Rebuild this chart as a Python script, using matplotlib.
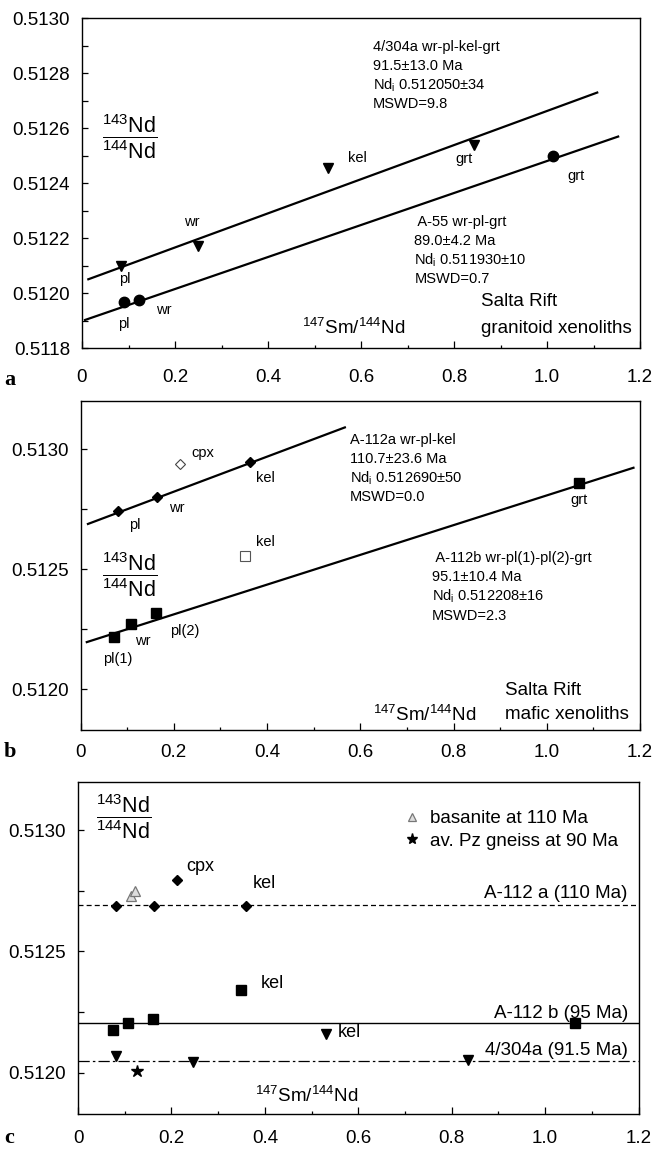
import matplotlib
matplotlib.use("Agg")
import matplotlib.pyplot as plt
from matplotlib.ticker import MultipleLocator, FuncFormatter
from matplotlib.lines import Line2D

plt.rcParams['font.family'] = ['Liberation Sans', 'DejaVu Sans']
plt.rcParams['mathtext.fontset'] = 'custom'
plt.rcParams['mathtext.rm'] = 'Liberation Sans'
plt.rcParams['mathtext.it'] = 'Liberation Sans:italic'
plt.rcParams['mathtext.bf'] = 'Liberation Sans:bold'

# ---------------- panel a : granitoid xenoliths ----------------
a_tri_x = [0.084, 0.250, 0.529, 0.844]          # 4/304a wr-pl-kel-grt
a_tri_y = [0.51210, 0.512172, 0.512455, 0.512539]
a_circ_x = [0.090, 0.123, 1.013]                 # A-55 wr-pl-grt
a_circ_y = [0.511968, 0.511975, 0.512501]
a_iso1_x = [0.0136, 1.108]
a_iso1_y = [0.512051, 0.512730]
a_iso2_x = [0.0065, 1.153]
a_iso2_y = [0.511903, 0.512570]
a_point_labels = [("pl", 0.091, 0.512051), ("wr", 0.237, 0.512260),
                  ("kel", 0.592, 0.512491), ("grt", 0.821, 0.512487),
                  ("grt", 1.063, 0.512427), ("pl", 0.090, 0.511888),
                  ("wr", 0.176, 0.511939)]
a_block1 = ["4/304a wr-pl-kel-grt", "91.5±13.0 Ma",
            "Nd$_\\mathrm{i}$ 0.512050±34", "MSWD=9.8"]
a_block2 = [" A-55 wr-pl-grt", "89.0±4.2 Ma",
            "Nd$_\\mathrm{i}$ 0.511930±10", "MSWD=0.7"]

# ---------------- panel b : mafic xenoliths ----------------
b_dia_x = [0.080, 0.164, 0.363]                  # A-112a wr-pl-kel
b_dia_y = [0.512743, 0.512802, 0.512945]
b_cpx_x = [0.214]
b_cpx_y = [0.512938]
b_kel_open_x = [0.353]
b_kel_open_y = [0.512553]
b_sq_x = [0.072, 0.1075, 0.161, 1.069]           # A-112b wr-pl(1)-pl(2)-grt
b_sq_y = [0.512219, 0.512273, 0.512318, 0.512858]
b_iso1_x = [0.016, 0.567]
b_iso1_y = [0.512688, 0.513090]
b_iso2_x = [0.0135, 1.186]
b_iso2_y = [0.512196, 0.512922]
b_point_labels = [("pl", 0.116, 0.512685), ("wr", 0.206, 0.512756),
                  ("kel", 0.396, 0.512881), ("cpx", 0.262, 0.512982),
                  ("kel", 0.397, 0.512611), ("pl(1)", 0.079, 0.512125),
                  ("wr", 0.133, 0.512200), ("pl(2)", 0.224, 0.512242),
                  ("grt", 1.069, 0.512786)]
b_block1 = ["A-112a wr-pl-kel", "110.7±23.6 Ma",
            "Nd$_\\mathrm{i}$ 0.512690±50", "MSWD=0.0"]
b_block2 = [" A-112b wr-pl(1)-pl(2)-grt", "95.1±10.4 Ma",
            "Nd$_\\mathrm{i}$ 0.512208±16", "MSWD=2.3"]

# ---------------- panel c : initial ratios ----------------
c_dia_x = [0.081, 0.163, 0.360, 0.213]
c_dia_y = [0.512687, 0.512687, 0.512687, 0.512796]
c_sq_x = [0.074, 0.1075, 0.160, 0.350, 1.063]
c_sq_y = [0.512176, 0.512204, 0.512223, 0.512339, 0.512204]
c_tri_x = [0.081, 0.246, 0.530, 0.836]
c_tri_y = [0.512070, 0.512043, 0.512160, 0.512052]
c_bas_x = [0.113, 0.121]
c_bas_y = [0.512730, 0.512748]
c_gneiss_x = [0.126]
c_gneiss_y = [0.512005]
c_ref_lines = [("A-112 a (110 Ma)", 0.512690, 0.512741, (0, (4, 2.5)), 0.9),
               ("A-112 b (95 Ma)", 0.512205, 0.512245, '-', 1.0),
               ("4/304a (91.5 Ma)", 0.512047, 0.512091, (0, (9, 2.5, 2, 2.5)), 0.9)]
c_point_labels = [("cpx", 0.262, 0.512851), ("kel", 0.398, 0.512779),
                  ("kel", 0.417, 0.512369), ("kel", 0.581, 0.512164)]

FS_TICK = 13.5
FS_SMALL = 10.5
FS_BIG = 13.5

fig = plt.figure(figsize=(6.53, 11.53), dpi=100)
ax_a = fig.add_axes([82 / 653, 1 - 348.3 / 1153, 558 / 653, 330 / 1153])
ax_b = fig.add_axes([80.5 / 653, 1 - 730 / 1153, 559.5 / 653, 329 / 1153])
ax_c = fig.add_axes([78 / 653, 1 - 1113.7 / 1153, 560.5 / 653, 331.7 / 1153])


def xfmt(v, pos):
    return "0" if abs(v) < 1e-9 else f"{v:.1f}"


def style_axes(ax, ylim, ymaj, ymin, xpad):
    ax.set_xlim(0, 1.2)
    ax.set_ylim(*ylim)
    ax.xaxis.set_major_locator(MultipleLocator(0.2))
    ax.xaxis.set_minor_locator(MultipleLocator(0.1))
    ax.xaxis.set_major_formatter(FuncFormatter(xfmt))
    ax.yaxis.set_major_locator(MultipleLocator(ymaj))
    ax.yaxis.set_minor_locator(MultipleLocator(ymin))
    ax.yaxis.set_major_formatter(FuncFormatter(lambda v, p: f"{v:.4f}"))
    ax.tick_params(axis='both', which='both', direction='in', top=False, right=False,
                   labelsize=FS_TICK, width=0.9)
    ax.tick_params(axis='x', which='major', length=5, pad=xpad)
    ax.tick_params(axis='x', which='minor', length=2.5)
    ax.tick_params(axis='y', which='major', length=4, pad=8.5)
    ax.tick_params(axis='y', which='minor', length=4)
    for s in ax.spines.values():
        s.set_linewidth(1.0)


def block(ax, x, y, lines, fs=FS_SMALL, step=13.75):
    for i, t in enumerate(lines):
        ax.annotate(t, xy=(x, y), xytext=(0, -i * step), textcoords='offset points',
                    ha='left', va='center', fontsize=fs)


frac = r"$\dfrac{{}^{143}\mathrm{Nd}}{{}^{144}\mathrm{Nd}}$"
xlab = r"$^{147}$Sm/$^{144}$Nd"

# panel a
ax = ax_a
style_axes(ax, (0.5118, 0.5130), 0.0002, 0.0001, 15)
ax.plot(a_iso1_x, a_iso1_y, color='black', lw=1.6)
ax.plot(a_iso2_x, a_iso2_y, color='black', lw=1.6)
ax.plot(a_tri_x, a_tri_y, 'v', color='black', ms=7)
ax.plot(a_circ_x, a_circ_y, 'o', color='black', ms=7.5)
for t, x, y in a_point_labels:
    ax.text(x, y, t, ha='center', va='center', fontsize=FS_SMALL)
block(ax, 0.626, 0.512897, a_block1)
block(ax, 0.715, 0.512260, a_block2)
ax.text(0.859, 0.511970, "Salta Rift", fontsize=FS_BIG, va='center')
ax.text(0.859, 0.511873, "granitoid xenoliths", fontsize=FS_BIG, va='center')
ax.text(0.584, 0.511873, xlab, fontsize=FS_BIG, ha='center', va='center')
ax.text(0.103, 0.512569, frac, fontsize=15.5, ha='center', va='center')

# panel b
ax = ax_b
style_axes(ax, (0.51183, 0.51320), 0.0005, 0.00025, 10)
ax.plot(b_iso1_x, b_iso1_y, color='black', lw=1.6)
ax.plot(b_iso2_x, b_iso2_y, color='black', lw=1.6)
ax.plot(b_dia_x, b_dia_y, 'D', color='black', ms=5)
ax.plot(b_cpx_x, b_cpx_y, 'D', mfc='white', mec='#444444', mew=0.8, ms=5.5)
ax.plot(b_kel_open_x, b_kel_open_y, 's', mfc='white', mec='#555555', mew=0.8, ms=7)
ax.plot(b_sq_x, b_sq_y, 's', color='black', ms=6.5)
for t, x, y in b_point_labels:
    ax.text(x, y, t, ha='center', va='center', fontsize=FS_SMALL)
block(ax, 0.578, 0.513037, b_block1)
block(ax, 0.753, 0.512545, b_block2)
ax.text(0.911, 0.511996, "Salta Rift", fontsize=FS_BIG, va='center')
ax.text(0.911, 0.511893, "mafic xenoliths", fontsize=FS_BIG, va='center')
ax.text(0.739, 0.511893, xlab, fontsize=FS_BIG, ha='center', va='center')
ax.text(0.106, 0.512477, frac, fontsize=15.5, ha='center', va='center')

# panel c
ax = ax_c
style_axes(ax, (0.51183, 0.51320), 0.0005, 0.00025, 11.5)
for name, yv, ty, ls, lw in c_ref_lines:
    ax.axhline(yv, color='black', ls=ls, lw=lw)
    ax.text(1.177, ty, name, ha='right', va='center', fontsize=FS_BIG)
ax.plot(c_dia_x, c_dia_y, 'D', color='black', ms=5.5)
ax.plot(c_sq_x, c_sq_y, 's', color='black', ms=7)
ax.plot(c_tri_x, c_tri_y, 'v', color='black', ms=7)
ax.plot(c_bas_x, c_bas_y, '^', mfc='#dddddd', mec='#777777', mew=0.9, ms=7.5, ls='none')
ax.plot(c_gneiss_x, c_gneiss_y, '*', color='black', ms=9, ls='none')
for t, x, y in c_point_labels:
    ax.text(x, y, t, ha='center', va='center', fontsize=13)
ax.text(0.490, 0.511905, xlab, fontsize=FS_BIG, ha='center', va='center')
ax.text(0.098, 0.513058, frac, fontsize=15.5, ha='center', va='center')
leg_bas = Line2D([], [], marker='^', mfc='#dddddd', mec='#777777', mew=0.9, ms=6, ls='none')
leg_gn = Line2D([], [], marker='*', color='black', ms=8, ls='none')
ax.legend([leg_bas, leg_gn], ["basanite at 110 Ma", "av. Pz gneiss at 90 Ma"],
          loc='upper left', bbox_to_anchor=(0.555, 0.955), frameon=False,
          fontsize=13.5, handlelength=1.0, handletextpad=0.5, labelspacing=0.3,
          borderpad=0.2)

# panel letters
for lab, ypix in (("a", 380), ("b", 752), ("c", 1138)):
    fig.text(0.006, 1 - ypix / 1153, lab, fontsize=16, fontweight='bold',
             family='Liberation Serif', va='center', ha='left')

fig.savefig("out.png", dpi=100)
